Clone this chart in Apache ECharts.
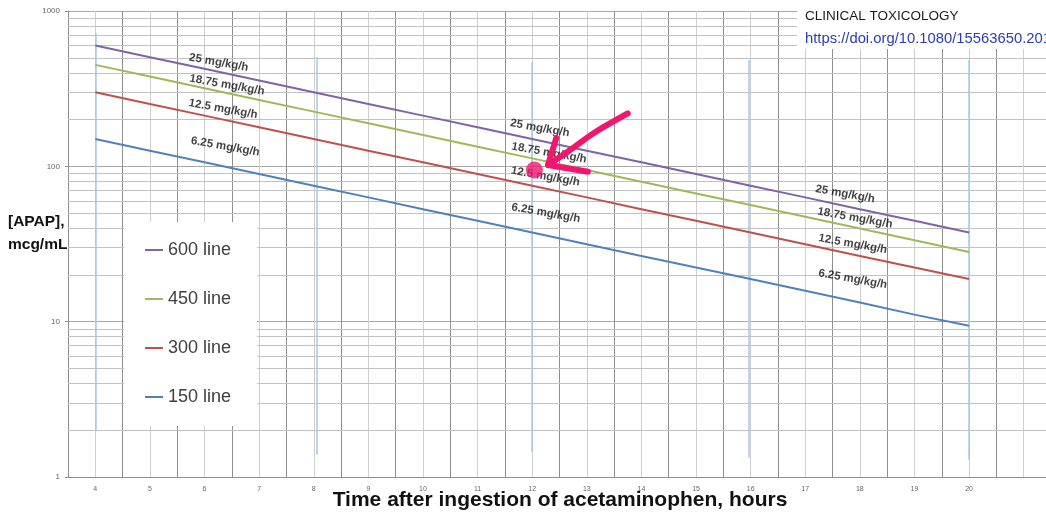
<!DOCTYPE html>
<html>
<head>
<meta charset="utf-8">
<script src="https://cdn.jsdelivr.net/npm/echarts@6/dist/echarts.min.js"></script>
<style>
html,body{margin:0;padding:0;background:#fff;}
#chart{width:1046px;height:513px;}
</style>
</head>
<body>
<div id="chart"></div>
<script>
// ---- data ----
const hours = [4,5,6,7,8,9,10,11,12,13,14,15,16,17,18,19,20];
const line600 = [600,504.5,424.3,356.8,300,252.3,212.1,178.4,150,126.1,106.1,89.2,75,63.1,53.0,44.6,37.5];
const line450 = [450,378.4,318.2,267.6,225,189.2,159.1,133.8,112.5,94.6,79.5,66.9,56.3,47.3,39.8,33.4,28.1];
const line300 = [300,252.3,212.1,178.4,150,126.1,106.1,89.2,75,63.1,53.0,44.6,37.5,31.5,26.5,22.3,18.8];
const line150 = [150,126.1,106.1,89.2,75,63.1,53.0,44.6,37.5,31.5,26.5,22.3,18.8,15.8,13.3,11.1,9.4];
const seriesNames = ['600 line','450 line','300 line','150 line'];
const xTickLabels = ['4','5','6','7','8','9','10','11','12','13','14','15','16','17','18','19','20'];
const yTickLabels = {1:'1', 10:'10', 100:'100', 1000:'1000'};
const yMinorTicks = [2,3,4,5,6,7,8,9,20,30,40,50,60,70,80,90,200,300,400,500,600,700,800,900];
const xTitle = 'Time after ingestion of acetaminophen, hours';
const yTitle = '[APAP],\nmcg/mL';
// infusion-rate annotations: [hour, concentration]
const rateLabels = ['25 mg/kg/h','18.75 mg/kg/h','12.5 mg/kg/h','6.25 mg/kg/h'];
const rateLabelX = [[6.26,6.41,6.34,6.38],[12.14,12.31,12.24,12.25],[17.73,17.91,17.87,17.87]];
const rateLabelY = [[466,334,234,134],[176,122,86,50],[66.3,46.5,31.6,18.8]];
// thin vertical blue lines: hour, top value, bottom value
const vlineX = [4,8.05,12,15.97,20];
const vlineTop = [720,506,470,483,483];
const vlineBottom = [2.0,1.39,1.45,1.33,1.29];
// pink hand-drawn marker
const arrowShaft = [[13.75,219],[13.13,164],[12.65,124],[12.29,102]];
const arrowHead = [[12.44,152],[12.29,102],[13.02,92.3]];
const markerDot = [[12.04,94.7]];

const colors = ['#8064A2','#9BBB59','#C0504D','#4F81BD'];
const pink = '#F2166F';
const FONT = '"Liberation Sans", Arial, sans-serif';

const chart = echarts.init(document.getElementById('chart'), null, {renderer:'canvas'});

const mainData = [line600,line450,line300,line150];
const mainSeries = mainData.map((arr,i)=>({
  name: seriesNames[i],
  type: 'line',
  data: hours.map((h,k)=>[h,arr[k]]),
  showSymbol: false,
  symbol: 'none',
  lineStyle: {color: colors[i], width: 2},
  itemStyle: {color: colors[i]},
  z: 3
}));

const labelData = [];
rateLabelX.forEach((xs,s)=>xs.forEach((x,i)=>{
  labelData.push({name: rateLabels[i], value:[x, rateLabelY[s][i]]});
}));

const option = {
  animation: false,
  backgroundColor: '#fff',
  textStyle: {fontFamily: FONT},
  grid: {left: 68, right: -5, top: 11, bottom: 36, containLabel: false, outerBoundsMode: 'none'},
  legend: {
    data: seriesNames,
    orient: 'vertical',
    left: 124, top: 222,
    backgroundColor: '#fff',
    padding: [18, 26, 19, 21],
    itemGap: 29,
    itemWidth: 18, itemHeight: 2,
    icon: 'rect',
    textStyle: {fontSize: 18, color: '#404040', lineHeight: 20, fontFamily: FONT},
    z: 10
  },
  xAxis: {
    type: 'value',
    min: 3.5, max: 21.5, interval: 0.5,
    axisLine: {show: true, lineStyle: {color: '#8f8f8f', width: 1}},
    axisTick: {show: false},
    axisLabel: {
      fontSize: 7, color: '#666', margin: 9,
      formatter: v => {
        const i = xTickLabels.indexOf(String(v));
        return i >= 0 ? xTickLabels[i] : '';
      }
    },
    splitLine: {show: true, lineStyle: {color: ['#8f8f8f','#cfcfcf'], width: 1}}
  },
  yAxis: {
    type: 'log', logBase: 10, min: 1, max: 1000,
    axisLine: {show: true, lineStyle: {color: '#8f8f8f'}},
    axisTick: {show: true, length: 3, lineStyle: {color: '#8f8f8f'}},
    axisLabel: {fontSize: 8, color: '#666', margin: 8, formatter: v => yTickLabels[Math.round(v)] || ''},
    splitLine: {show: true, lineStyle: {color: '#a8a8a8', width: 1}}
  },
  graphic: [
    {type: 'rect', left: 797, top: 0, shape: {width: 260, height: 49}, style: {fill: '#fff'}, z: 20},
    {type: 'text', left: 805, top: 9, style: {text: 'CLINICAL TOXICOLOGY', font: '13.5px ' + FONT, fill: '#1a1a1a'}, z: 21},
    {type: 'text', left: 805, top: 31, style: {text: 'https://doi.org/10.1080/15563650.2017', font: '14.8px ' + FONT, fill: '#2b3cb5'}, z: 21},
    {type: 'text', left: 8, top: 210, style: {text: yTitle, font: 'bold 15.5px ' + FONT, fill: '#111', lineHeight: 23}, z: 21},
    {type: 'text', x: 560, y: 490, style: {text: xTitle, font: 'bold 21px ' + FONT, fill: '#111', align: 'center', verticalAlign: 'top'}, z: 21}
  ],
  series: [
    {
      name: 'minor grid',
      type: 'lines',
      coordinateSystem: 'cartesian2d',
      silent: true,
      z: 1,
      lineStyle: {color: '#c2c2c2', width: 1, opacity: 1},
      data: yMinorTicks.map(v=>({coords: [[3.5, v],[21.5, v]]}))
    },
    {
      name: 'verticals',
      type: 'lines',
      coordinateSystem: 'cartesian2d',
      silent: true,
      z: 2,
      lineStyle: {color: '#a9c8e6', width: 1.5, opacity: 1},
      data: vlineX.map((x,i)=>({coords: [[x, vlineTop[i]],[x, vlineBottom[i]]]}))
    },
    ...mainSeries,
    {
      name: 'rate labels',
      type: 'scatter',
      data: labelData,
      symbolSize: 1,
      itemStyle: {color: 'transparent'},
      z: 5,
      label: {
        show: true, position: 'inside', rotate: -10,
        formatter: p => p.name,
        fontSize: 11.5, fontWeight: 'bold', color: '#111', fontFamily: FONT
      }
    },
    {
      name: 'arrow shaft', type: 'line', data: arrowShaft, smooth: 0.3,
      showSymbol: false, symbol: 'none', z: 8,
      lineStyle: {color: pink, width: 6, cap: 'round', join: 'round'}
    },
    {
      name: 'arrow head', type: 'line', data: arrowHead,
      showSymbol: false, symbol: 'none', z: 8,
      lineStyle: {color: pink, width: 6, cap: 'round', join: 'round'}
    },
    {
      name: 'marker', type: 'scatter', data: markerDot, symbolSize: 17, z: 8,
      itemStyle: {color: pink}
    }
  ]
};
chart.setOption(option);
</script>
</body>
</html>
